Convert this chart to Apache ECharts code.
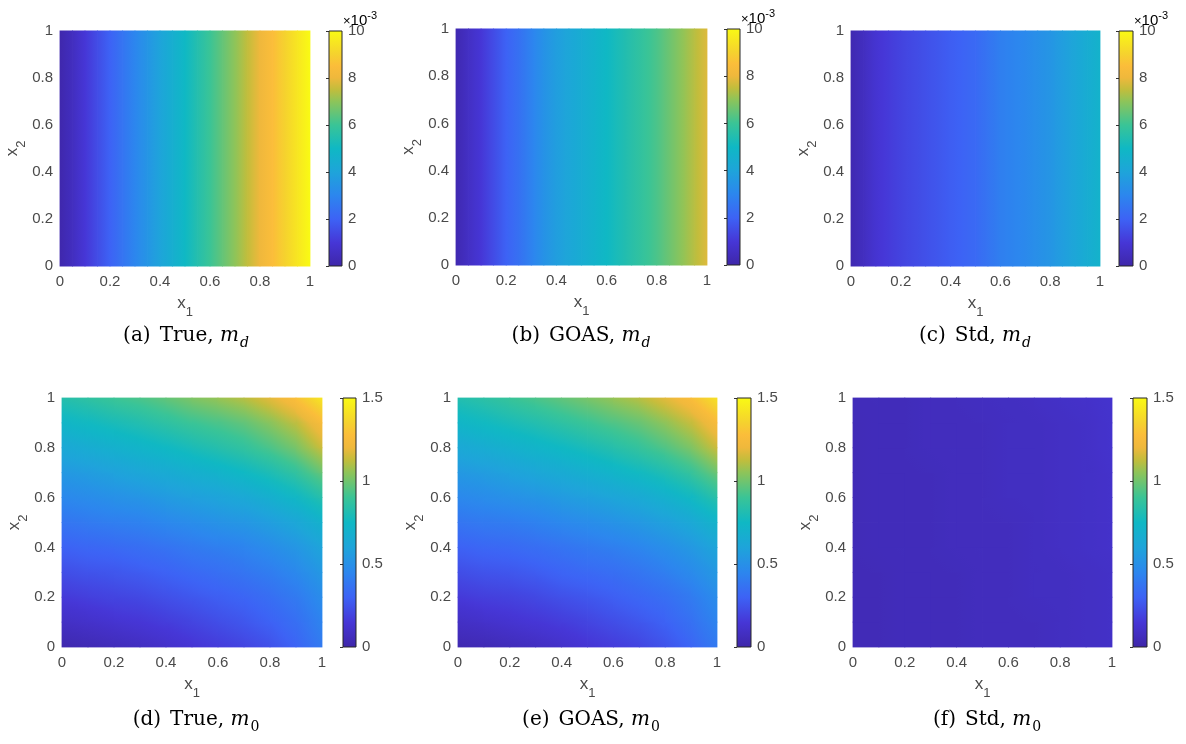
<!DOCTYPE html>
<html>
<head>
<meta charset="utf-8">
<script src="https://cdn.jsdelivr.net/npm/echarts@6/dist/echarts.min.js"></script>
<style>html,body{margin:0;padding:0;background:#fff}#c{width:1186px;height:744px}</style>
</head>
<body>
<div id="c"></div>
<script>
// ---------------- data ----------------
// m_d panels: value depends on x1 only (units of 1e-3)
const X1_MD = [0,0.05,0.1,0.15,0.2,0.25,0.3,0.35,0.4,0.45,0.5,0.55,0.6,0.65,0.7,0.75,0.8,0.85,0.9,0.95,1];
const X2_MD = [0,1];
const TRUE_MD = [0.1,0.5,1.0,1.5,2.0,2.5,3.0,3.5,4.0,4.5,5.0,5.5,6.0,6.5,7.0,7.5,8.0,8.5,9.0,9.5,10.0];
const GOAS_MD = [0.2,0.6,1.0,1.5,2.0,2.4,2.9,3.4,3.8,4.1,4.4,4.7,5.0,5.3,5.6,5.9,6.2,6.6,7.0,7.4,7.8];
const STD_MD  = [0.2,0.5,0.9,1.1,1.3,1.45,1.6,1.75,1.9,2.05,2.2,2.5,2.8,2.95,3.1,3.3,3.5,3.8,4.1,4.4,4.7];

// m_0 panels: rows are x2 = 0 ... 1 (bottom to top), columns x1 = 0 ... 1
const X1_M0 = [0,0.1,0.2,0.3,0.4,0.5,0.6,0.7,0.8,0.9,1];
const X2_M0 = [0,0.1,0.2,0.3,0.4,0.5,0.6,0.7,0.8,0.9,1];
const TRUE_M0 = [
  [0.02,0.04,0.06,0.08,0.11,0.14,0.17,0.20,0.24,0.31,0.40],
  [0.09,0.11,0.13,0.15,0.17,0.20,0.23,0.26,0.30,0.35,0.44],
  [0.16,0.18,0.20,0.21,0.24,0.26,0.29,0.31,0.35,0.40,0.48],
  [0.23,0.25,0.26,0.28,0.30,0.33,0.35,0.38,0.41,0.46,0.54],
  [0.30,0.32,0.33,0.35,0.37,0.40,0.42,0.44,0.48,0.53,0.60],
  [0.38,0.40,0.42,0.43,0.46,0.48,0.51,0.53,0.57,0.62,0.70],
  [0.46,0.48,0.50,0.52,0.55,0.58,0.60,0.63,0.68,0.74,0.83],
  [0.54,0.56,0.59,0.62,0.65,0.68,0.71,0.75,0.80,0.87,0.98],
  [0.63,0.66,0.69,0.72,0.75,0.79,0.83,0.87,0.93,1.01,1.14],
  [0.73,0.76,0.79,0.82,0.86,0.90,0.93,0.97,1.04,1.12,1.25],
  [0.83,0.86,0.90,0.93,0.97,1.02,1.06,1.11,1.18,1.28,1.43]
];
const GOAS_M0 = [
  [0.03,0.04,0.06,0.08,0.11,0.14,0.17,0.20,0.25,0.31,0.40],
  [0.09,0.11,0.13,0.15,0.17,0.20,0.23,0.26,0.30,0.36,0.44],
  [0.16,0.18,0.19,0.21,0.24,0.26,0.29,0.32,0.35,0.40,0.48],
  [0.23,0.25,0.26,0.28,0.31,0.33,0.35,0.38,0.42,0.47,0.54],
  [0.30,0.32,0.33,0.35,0.37,0.40,0.42,0.45,0.49,0.54,0.61],
  [0.38,0.40,0.41,0.43,0.46,0.48,0.51,0.54,0.58,0.63,0.71],
  [0.46,0.48,0.50,0.52,0.55,0.58,0.61,0.64,0.69,0.75,0.84],
  [0.54,0.56,0.59,0.62,0.65,0.68,0.72,0.76,0.81,0.88,0.99],
  [0.63,0.66,0.69,0.72,0.75,0.79,0.83,0.88,0.94,1.02,1.14],
  [0.73,0.76,0.79,0.82,0.86,0.90,0.94,0.98,1.05,1.13,1.25],
  [0.82,0.85,0.89,0.93,0.97,1.01,1.06,1.11,1.18,1.27,1.41]
];
const STD_M0 = [
  [0.05,0.05,0.06,0.06,0.06,0.07,0.07,0.07,0.08,0.09,0.10],
  [0.05,0.05,0.06,0.06,0.06,0.07,0.07,0.07,0.08,0.09,0.10],
  [0.05,0.05,0.06,0.06,0.06,0.07,0.07,0.08,0.08,0.09,0.10],
  [0.05,0.05,0.06,0.06,0.06,0.07,0.07,0.08,0.08,0.09,0.10],
  [0.05,0.06,0.06,0.06,0.07,0.07,0.07,0.08,0.09,0.10,0.11],
  [0.05,0.06,0.06,0.06,0.07,0.07,0.07,0.08,0.09,0.10,0.11],
  [0.05,0.06,0.06,0.06,0.07,0.07,0.08,0.08,0.09,0.10,0.11],
  [0.05,0.06,0.06,0.06,0.07,0.07,0.08,0.08,0.09,0.10,0.11],
  [0.05,0.06,0.06,0.07,0.07,0.07,0.08,0.08,0.09,0.10,0.12],
  [0.05,0.06,0.06,0.07,0.07,0.07,0.08,0.08,0.09,0.10,0.12],
  [0.06,0.06,0.06,0.07,0.07,0.08,0.08,0.09,0.10,0.11,0.12]
];

const AXIS_TICK_STEP = 0.2;             // x1 / x2 ticks 0,0.2,...,1
const CBAR_MD_TICKS = [0,2,4,6,8,10];   // x 10^-3
const CBAR_M0_TICKS = [0,0.5,1,1.5];
const CAPTION_LABELS = ['(a)','(b)','(c)','(d)','(e)','(f)'];
const CAPTION_METHODS = ['True','GOAS','Std','True','GOAS','Std'];
const CAPTION_SUBS = ['d','d','d','0','0','0'];

// ---------------- styling / layout ----------------
const PARULA = [[0,'#3e26a8'],[0.1,'#4636d6'],[0.2,'#3d62f5'],[0.3,'#2c86ee'],[0.4,'#1ea4da'],
  [0.5,'#0fb8c4'],[0.6,'#3ac496'],[0.7,'#8ec459'],[0.75,'#c2bd3c'],[0.8,'#efb83c'],
  [0.85,'#fbbd3a'],[0.9,'#f5d22e'],[1,'#f9fa14']];
const LAYOUT = [
  {plot:[60,31,250,235],  bar:[329,31,13,235],  cap:[186,338]},
  {plot:[456,29,251,236], bar:[727,29,13,236],  cap:[581,338]},
  {plot:[851,31,249,235], bar:[1119,31,14,235], cap:[975,338]},
  {plot:[62,398,260,249], bar:[343,398,13,249], cap:[196,722]},
  {plot:[458,398,259,249],bar:[737,398,14,249], cap:[591,722]},
  {plot:[853,398,259,249],bar:[1133,398,14,249],cap:[987,722]}
];
const SANS = "'Liberation Sans', Arial, Helvetica, sans-serif";
const SERIF = "'DejaVu Serif', 'Liberation Serif', serif";
const LABEL_COLOR = '#4a4a4a';
const TICK_FONT = 15;

function hexRgb(h){return [parseInt(h.slice(1,3),16),parseInt(h.slice(3,5),16),parseInt(h.slice(5,7),16)];}
const PARULA_RGB = PARULA.map(s => [s[0], hexRgb(s[1])]);
function parula(t){
  t = Math.max(0, Math.min(1, t));
  for (let i = 1; i < PARULA_RGB.length; i++) {
    const [t1, c1] = PARULA_RGB[i];
    if (t <= t1) {
      const [t0, c0] = PARULA_RGB[i-1];
      const f = (t - t0) / (t1 - t0);
      return 'rgb(' + c0.map((c,k)=>Math.round(c + (c1[k]-c)*f)).join(',') + ')';
    }
  }
  return PARULA[PARULA.length-1][1];
}

function rowsFrom1D(vals, ys){ return ys.map(() => vals.slice()); }

const PANELS = [
  {xs:X1_MD, ys:X2_MD, vals:rowsFrom1D(TRUE_MD, X2_MD), ticks:CBAR_MD_TICKS, exp:true},
  {xs:X1_MD, ys:X2_MD, vals:rowsFrom1D(GOAS_MD, X2_MD), ticks:CBAR_MD_TICKS, exp:true},
  {xs:X1_MD, ys:X2_MD, vals:rowsFrom1D(STD_MD, X2_MD),  ticks:CBAR_MD_TICKS, exp:true},
  {xs:X1_M0, ys:X2_M0, vals:TRUE_M0, ticks:CBAR_M0_TICKS, exp:false},
  {xs:X1_M0, ys:X2_M0, vals:GOAS_M0, ticks:CBAR_M0_TICKS, exp:false},
  {xs:X1_M0, ys:X2_M0, vals:STD_M0,  ticks:CBAR_M0_TICKS, exp:false}
];

function buildCells(p){
  const cells = [];
  for (let j = 0; j < p.ys.length - 1; j++)
    for (let i = 0; i < p.xs.length - 1; i++)
      cells.push([p.xs[i], p.xs[i+1], p.ys[j], p.ys[j+1],
        p.vals[j][i], p.vals[j][i+1], p.vals[j+1][i], p.vals[j+1][i+1]]);
  return cells;
}

function makeFieldRender(vmin, vmax){
  const cm = v => parula((v - vmin) / (vmax - vmin));
  return function(params, api){
    const x0 = api.value(0), x1 = api.value(1), y0 = api.value(2), y1 = api.value(3);
    const v00 = api.value(4), v10 = api.value(5), v01 = api.value(6), v11 = api.value(7);
    const p0 = api.coord([x0, y0]), p1 = api.coord([x1, y1]);
    const left = Math.min(p0[0], p1[0]), right = Math.max(p0[0], p1[0]);
    const top = Math.min(p0[1], p1[1]), bottom = Math.max(p0[1], p1[1]);
    const W = right - left, H = bottom - top;
    const a = ((v10 - v00) + (v11 - v01)) / 2;
    const b = ((v01 - v00) + (v11 - v10)) / 2;
    const vc = (v00 + v10 + v01 + v11) / 4;
    const gx = a / W, gy = -b / H;
    const gn = Math.hypot(gx, gy);
    let fill;
    if (gn < 1e-12) fill = cm(vc);
    else {
      const dx = gx / gn, dy = gy / gn;
      const L = W / 2 * Math.abs(dx) + H / 2 * Math.abs(dy);
      const cx = (left + right) / 2, cy = (top + bottom) / 2;
      const stops = [];
      for (let k = 0; k <= 4; k++) {
        const t = k / 4;
        stops.push({offset: t, color: cm(vc + gn * L * (2 * t - 1))});
      }
      fill = new echarts.graphic.LinearGradient(cx - dx * L, cy - dy * L, cx + dx * L, cy + dy * L, stops, true);
    }
    return {type: 'rect', shape: {x: left - 0.4, y: top - 0.4, width: W + 0.8, height: H + 0.8},
            style: {fill: fill}};
  };
}

function barRender(params, api){
  const p0 = api.coord([api.value(0), api.value(2)]);
  const p1 = api.coord([api.value(1), api.value(3)]);
  const stops = PARULA.map(s => ({offset: s[0], color: s[1]}));
  return {type: 'rect',
    shape: {x: Math.min(p0[0],p1[0]), y: Math.min(p0[1],p1[1]), width: Math.abs(p1[0]-p0[0]), height: Math.abs(p1[1]-p0[1])},
    style: {fill: new echarts.graphic.LinearGradient(0, 1, 0, 0, stops), stroke: '#262626', lineWidth: 1}};
}

const subRich = {
  x: {fontFamily: SANS, fontSize: 17, color: LABEL_COLOR, lineHeight: 20, verticalAlign: 'top'},
  s: {fontFamily: SANS, fontSize: 13, color: LABEL_COLOR, lineHeight: 14, padding: [16, 0, 0, 0]}
};

const grids = [], xAxes = [], yAxes = [], series = [], graphics = [];
PANELS.forEach((p, k) => {
  const L = LAYOUT[k];
  // main plot
  grids.push({left: L.plot[0], top: L.plot[1], width: L.plot[2], height: L.plot[3], outerBoundsMode: 'none', containLabel: false});
  const gi = grids.length - 1;
  xAxes.push({type: 'value', gridIndex: gi, min: 0, max: 1, interval: AXIS_TICK_STEP,
    axisLine: {show: false}, axisTick: {show: false}, splitLine: {show: false},
    axisLabel: {fontFamily: SANS, fontSize: TICK_FONT, color: LABEL_COLOR, margin: 8},
    name: '{x|x}{s|1}', nameLocation: 'middle', nameGap: 25,
    nameTextStyle: {rich: subRich}});
  yAxes.push({type: 'value', gridIndex: gi, min: 0, max: 1, interval: AXIS_TICK_STEP,
    axisLine: {show: false}, axisTick: {show: false}, splitLine: {show: false},
    axisLabel: {fontFamily: SANS, fontSize: TICK_FONT, color: LABEL_COLOR, margin: 7},
    name: '{x|x}{s|2}', nameLocation: 'middle', nameGap: 27,
    nameTextStyle: {rich: subRich}});
  const vmin = p.ticks[0], vmax = p.ticks[p.ticks.length - 1];
  series.push({type: 'custom', xAxisIndex: gi, yAxisIndex: gi, silent: true,
    dimensions: ['x0','x1','y0','y1','v00','v10','v01','v11'],
    encode: {x: [0, 1], y: [2, 3]},
    data: buildCells(p), renderItem: makeFieldRender(vmin, vmax)});
  // colour bar
  grids.push({left: L.bar[0], top: L.bar[1], width: L.bar[2], height: L.bar[3], outerBoundsMode: 'none', containLabel: false});
  const bi = grids.length - 1;
  xAxes.push({type: 'value', gridIndex: bi, min: 0, max: 1, show: false});
  yAxes.push({type: 'value', gridIndex: bi, min: vmin, max: vmax, interval: p.ticks[1] - p.ticks[0],
    position: 'right',
    axisLine: {show: false}, splitLine: {show: false},
    axisTick: {show: true, inside: true, length: 3, lineStyle: {color: '#333'}},
    axisLabel: {fontFamily: SANS, fontSize: TICK_FONT, color: LABEL_COLOR, margin: 6}});
  series.push({type: 'custom', xAxisIndex: bi, yAxisIndex: bi, silent: true,
    dimensions: ['x0','x1','y0','y1'], encode: {x: [0, 1], y: [2, 3]},
    data: [[0, 1, vmin, vmax]], renderItem: barRender});
  if (p.exp) {
    graphics.push({type: 'text', x: L.bar[0] + L.bar[2] + 18, y: L.bar[1] - 5, silent: true,
      style: {text: '{m|×}{a|10}{b|-3}', align: 'center', verticalAlign: 'bottom', rich: {
        m: {fontFamily: SANS, fontSize: 13, color: '#9a9a9a', lineHeight: 16, padding: [6, 0, 0, 0]},
        a: {fontFamily: SANS, fontSize: 15, color: LABEL_COLOR, lineHeight: 16, padding: [6, 0, 0, 0]},
        b: {fontFamily: SANS, fontSize: 11, color: LABEL_COLOR, lineHeight: 12, verticalAlign: 'top'}
      }}});
  }
  // caption
  graphics.push({type: 'text', x: L.cap[0], y: L.cap[1], silent: true,
    style: {text: '{n|' + CAPTION_LABELS[k] + '}{g|}{n|' + CAPTION_METHODS[k] + ', }{i|m}{' + (CAPTION_SUBS[k] === 'd' ? 'si' : 'su') + '|' + CAPTION_SUBS[k] + '}',
      align: 'center', verticalAlign: 'middle',
      rich: {
        n: {fontFamily: SERIF, fontSize: 20, color: '#111', lineHeight: 24, verticalAlign: 'top'},
        g: {width: 9, lineHeight: 24},
        i: {fontFamily: SERIF, fontSize: 20, fontStyle: 'italic', color: '#111', lineHeight: 24, verticalAlign: 'top'},
        si: {fontFamily: SERIF, fontSize: 14, fontStyle: 'italic', color: '#111', lineHeight: 16, padding: [11, 0, 0, 1]},
        su: {fontFamily: SERIF, fontSize: 14, color: '#111', lineHeight: 16, padding: [11, 0, 0, 1]}
      }}});
});

const chart = echarts.init(document.getElementById('c'), null, {renderer: 'canvas'});
chart.setOption({
  backgroundColor: '#fff',
  animation: false,
  grid: grids, xAxis: xAxes, yAxis: yAxes, series: series, graphic: graphics
});
</script>
</body>
</html>
